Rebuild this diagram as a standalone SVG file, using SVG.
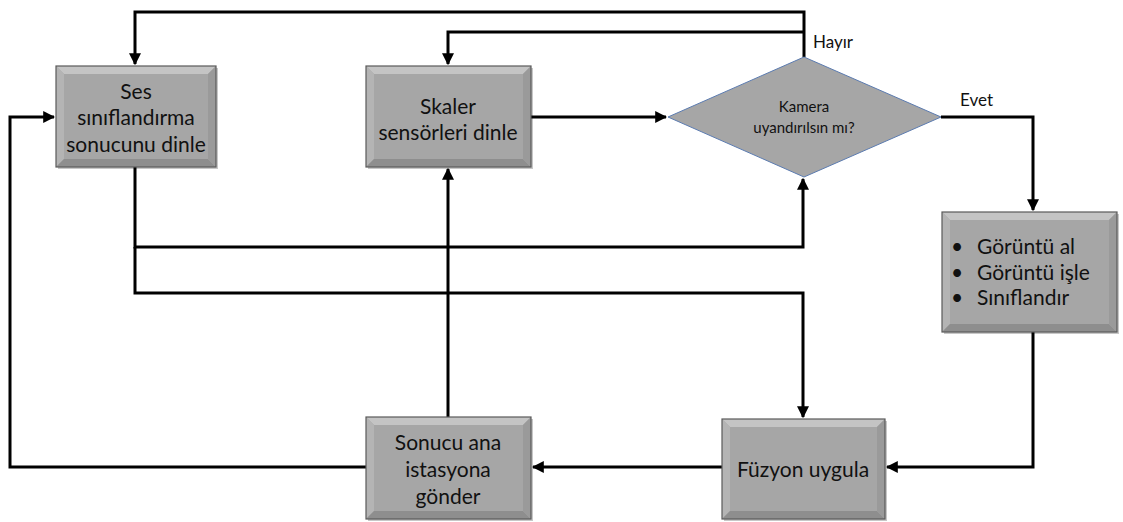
<svg xmlns="http://www.w3.org/2000/svg" width="1123" height="522" viewBox="0 0 1123 522">
<style>
.face{fill:#a6a6a6}
.bt{fill:#c4c4c4}
.bl{fill:#b4b4b4}
.bb{fill:#8e8e8e}
.br{fill:#9a9a9a}
.edge{fill:none;stroke:#5a5a5a;stroke-width:1.2}
.sh{fill:#000;opacity:0.22}
.t{font-family:Lato,"Open Sans","Liberation Sans",sans-serif;font-size:21px;fill:#111;text-anchor:middle}
.ts{font-family:Lato,"Open Sans","Liberation Sans",sans-serif;font-size:15px;fill:#111;text-anchor:middle}
.lab{font-family:Lato,"Open Sans","Liberation Sans",sans-serif;font-size:17px;fill:#111}
.c{fill:none;stroke:#000;stroke-width:3;stroke-linejoin:miter}
</style>
<defs>
<marker id="ah" viewBox="0 0 10 10" refX="9" refY="5" markerWidth="4" markerHeight="4" orient="auto" markerUnits="strokeWidth">
<path d="M0,0 L10,5 L0,10 z" fill="#000"/>
</marker>
</defs>
<rect width="1123" height="522" fill="#fff"/>

<g id="connectors">
<path class="c" d="M804,57 V12 H135 V64" marker-end="url(#ah)"/>
<path class="c" d="M804,32 H448 V64" marker-end="url(#ah)"/>
<path class="c" d="M531,117 H666" marker-end="url(#ah)"/>
<path class="c" d="M135,167 V247 H803 V179" marker-end="url(#ah)"/>
<path class="c" d="M135,247 V293 H803 V417" marker-end="url(#ah)"/>
<path class="c" d="M941,117 H1033 V210" marker-end="url(#ah)"/>
<path class="c" d="M1033,332 V467 H887" marker-end="url(#ah)"/>
<path class="c" d="M722,467 H533" marker-end="url(#ah)"/>
<path class="c" d="M448,417 V169" marker-end="url(#ah)"/>
<path class="c" d="M366,467 H10 V117 H54" marker-end="url(#ah)"/>
<text class="lab" x="813" y="48">Hayır</text>
<text class="lab" x="960" y="106">Evet</text>
</g>

<g id="node-ses">
<rect class="sh" x="58" y="68" width="160" height="101"/>
<rect class="face" x="56" y="66" width="160" height="101"/>
<polygon class="bt" points="56,66 216,66 208,74 64,74"/>
<polygon class="bl" points="56,66 64,74 64,159 56,167"/>
<polygon class="bb" points="56,167 64,159 208,159 216,167"/>
<polygon class="br" points="216,66 216,167 208,159 208,74"/>
<rect class="edge" x="56" y="66" width="160" height="101"/>
<text class="t" x="136" y="99">Ses</text>
<text class="t" x="136" y="125">sınıflandırma</text>
<text class="t" x="136" y="152">sonucunu dinle</text>
</g>

<g id="node-skaler">
<rect class="sh" x="368" y="68" width="165" height="101"/>
<rect class="face" x="366" y="66" width="165" height="101"/>
<polygon class="bt" points="366,66 531,66 523,74 374,74"/>
<polygon class="bl" points="366,66 374,74 374,159 366,167"/>
<polygon class="bb" points="366,167 374,159 523,159 531,167"/>
<polygon class="br" points="531,66 531,167 523,159 523,74"/>
<rect class="edge" x="366" y="66" width="165" height="101"/>
<text class="t" x="448" y="114">Skaler</text>
<text class="t" x="448" y="140">sensörleri dinle</text>
</g>

<g id="node-kamera">
<polygon points="804,57 941,117 804,177 668,117" fill="#a6a6a6" stroke="#5b7bb0" stroke-width="1"/>
<text class="ts" x="804" y="112">Kamera</text>
<text class="ts" x="804" y="133">uyandırılsın mı?</text>
</g>

<g id="node-goruntu">
<rect class="sh" x="944" y="214" width="175" height="120"/>
<rect class="face" x="942" y="212" width="175" height="120"/>
<polygon class="bt" points="942,212 1117,212 1109,220 950,220"/>
<polygon class="bl" points="942,212 950,220 950,324 942,332"/>
<polygon class="bb" points="942,332 950,324 1109,324 1117,332"/>
<polygon class="br" points="1117,212 1117,332 1109,324 1109,220"/>
<rect class="edge" x="942" y="212" width="175" height="120"/>
<g font-family="Lato,'Open Sans','Liberation Sans',sans-serif" font-size="21" fill="#111">
<text x="951" y="254">•</text><text x="977" y="254">Görüntü al</text>
<text x="951" y="280">•</text><text x="977" y="280">Görüntü işle</text>
<text x="951" y="305">•</text><text x="977" y="305">Sınıflandır</text>
</g>
</g>

<g id="node-sonucu">
<rect class="sh" x="368" y="419" width="165" height="102"/>
<rect class="face" x="366" y="417" width="165" height="102"/>
<polygon class="bt" points="366,417 531,417 523,425 374,425"/>
<polygon class="bl" points="366,417 374,425 374,511 366,519"/>
<polygon class="bb" points="366,519 374,511 523,511 531,519"/>
<polygon class="br" points="531,417 531,519 523,511 523,425"/>
<rect class="edge" x="366" y="417" width="165" height="102"/>
<text class="t" x="448" y="450">Sonucu ana</text>
<text class="t" x="448" y="477">istasyona</text>
<text class="t" x="448" y="504">gönder</text>
</g>

<g id="node-fuzyon">
<rect class="sh" x="724" y="421" width="163" height="100"/>
<rect class="face" x="722" y="419" width="163" height="100"/>
<polygon class="bt" points="722,419 885,419 877,427 730,427"/>
<polygon class="bl" points="722,419 730,427 730,511 722,519"/>
<polygon class="bb" points="722,519 730,511 877,511 885,519"/>
<polygon class="br" points="885,419 885,519 877,511 877,427"/>
<rect class="edge" x="722" y="419" width="163" height="100"/>
<text class="t" x="803" y="477">Füzyon uygula</text>
</g>
</svg>
